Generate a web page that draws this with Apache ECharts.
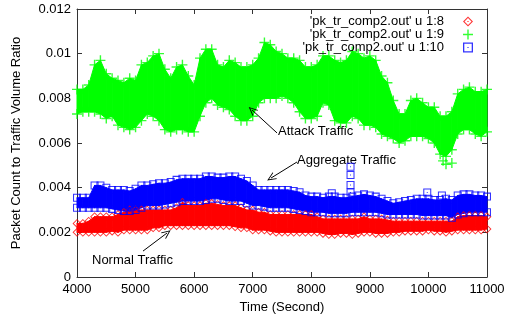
<!DOCTYPE html>
<html>
<head>
<meta charset="utf-8">
<script src="https://cdn.jsdelivr.net/npm/echarts@6/dist/echarts.min.js"></script>
<style>
html,body{margin:0;padding:0;background:#fff;}
#chart{width:511px;height:320px;}
</style>
</head>
<body>
<div id="chart"></div>
<script>
// ratios are written in units of 1e-4, one reading every 100 s from 4000 to 11000
var times = [];
for (var t = 4000; t <= 11000; t += 100) times.push(t);
var UNIT = 1e-4;

// 1:9  attack traffic (green), upper and lower edge of the cloud
var greenHi = [84,84,86,95,97,91,89,88,87,89, 88,95,96,99,100,93,89,94,95,90,
               86,98,102,102,95,94,97,96,94,94, 95,98,105,104,101,100,98,98,97,94,
               94,95,99,99,97,96,97,101,100,98, 99,97,90,87,79,73,73,79,80,78,
               76,76,72,72,74,82,84,85,83,83, 84];
var greenLo = [73,74,74,74,73,71,72,68,67,66, 67,70,73,72,70,66,65,66,66,65,
               65,72,78,80,77,76,75,72,70,70, 72,78,80,80,80,81,80,78,74,71,
               71,72,78,77,70,69,69,72,71,68, 68,67,64,63,62,60,61,63,63,63,
               62,60,55,54,57,64,66,66,64,63, 65];
var greenStray = [[10250, 52], [10300, 50.5], [10400, 51]];

// 1:8  normal traffic (red)
var redHi = [24,24,25,27,27,27,27,28,29,30, 30,30,30,30,30,30,30,31,33.5,32,
             32,32,33,33,32.5,32,32,32,31,30, 30,29,29,28,28,28,28,28,28,28,
             28,27,26,26,26,26,26,26,26,27, 26,26,26,25.5,25,25,25,25,25,25,
             25,25,25,25,25,27,27.5,27.5,27.5,27.5, 27];
var redLo = [20,20,20,20,20,20,20.5,20,21,21, 21,21,21,22,22,23,23,23,23,23,
             23,23,23,23,23,23,23,22.5,22,22, 21,21,21,20.5,20,20,20,20,20,20,
             20,20,19.5,19,19,19.5,19.5,19,19.5,20, 20,19.5,19.5,19.5,20,20,20.5,20.5,20.5,20.5,
             21,20.5,20.5,20,20.5,21,21,21,21,21, 21.5];

// 1:10 aggregate traffic (blue)
var blueHi = [35.5,35.5,35.5,41,41,40,39,39,39,38.5, 39.5,41,41,41.5,42,42,42.5,43.5,44,44,
              44,44,45,45,44.5,44.5,45,45,44,43, 41,39,39,39,39,39,39,38.5,38,36.5,
              36,36,35.5,36,36,35.5,35.5,36,36.5,37, 36.5,36,35,34,33,33.5,34,34.5,35,35,
              35,34.5,34.5,35,34.5,36.5,37,37,36.5,36.5, 36];
var blueLo = [31,31,31,31,31,31,30.5,30,29.5,29.5, 30,31,32,32,32,32.5,33,33.5,34,34,
              34,34,34.5,35,35,34.5,34,34,34,33, 32,32,31.5,31,31,31,31,30.5,30,29.5,
              29,29,29,28.5,28.5,28.5,28.5,29,29,29, 29,29,28.5,28,28,28,28,28,28,27.5,
              27.5,27.5,27.5,27.5,26.5,28,28.5,29,29,29, 29];
var blueStray = [[8350, 37.5], [8670, 49.4], [8670, 45.7], [8670, 41.2], [8670, 37.8],
                 [9980, 37.8], [10230, 36.5]];

var yTicks = [0, 0.002, 0.004, 0.006, 0.008, 0.01, 0.012];

// annotation arrows (tail, head) and their labels
var arrows = [
  [[7415, 0.00645], [6988, 0.00748]],
  [[7756, 0.00515], [7312, 0.00443]],
  [[5127, 0.00116], [5537, 0.00197]]
];
var notes = [
  {text: 'Attack Traffic', at: [7432, 0.00654]},
  {text: 'Aggregate Traffic', at: [7756, 0.00524]},
  {text: 'Normal Traffic', at: [4256, 0.00076]}
];

var names = ["'pk_tr_comp2.out' u 1:8", "'pk_tr_comp2.out' u 1:9", "'pk_tr_comp2.out' u 1:10"];
var FONT = 'Liberation Sans, Arial, Helvetica, sans-serif';

var PLUS = 'path://M4.3,0H5.7V4.3H10V5.7H5.7V10H4.3V5.7H0V4.3H4.3Z';
var DIAMOND = 'path://M5,0L10,5L5,10L0,5ZM5,1.5L1.5,5L5,8.5L8.5,5ZM4.4,4.4H5.6V5.6H4.4Z';
var SQUARE = 'path://M0,0H10V10H0ZM1.3,1.3V8.7H8.7V1.3ZM4.4,4.4H5.6V5.6H4.4Z';

function pts(arr) {
  return arr.map(function (v, i) { return [times[i], v * UNIT]; });
}
function stray(arr) {
  return arr.map(function (p) { return [p[0], p[1] * UNIT]; });
}
function band(lo, hi) {
  var out = [];
  for (var i = 0; i < times.length - 1; i++) {
    out.push([times[i], lo[i] * UNIT, hi[i] * UNIT, times[i + 1], lo[i + 1] * UNIT, hi[i + 1] * UNIT]);
  }
  return out;
}

function bandSeries(id, lo, hi, color) {
  return {
    name: id, type: 'custom', silent: true,
    renderItem: function (params, api) {
      var a = api.coord([api.value(0), api.value(1)]);
      var b = api.coord([api.value(0), api.value(2)]);
      var c = api.coord([api.value(3), api.value(5)]);
      var d = api.coord([api.value(3), api.value(4)]);
      return {type: 'polygon', shape: {points: [a, b, c, d]},
              style: {fill: color, stroke: color, lineWidth: 1}};
    },
    encode: {x: [0, 3], y: [1, 2, 4, 5]},
    data: band(lo, hi)
  };
}

function dots(name, data, sym, size, color) {
  return {
    name: name, type: 'scatter', silent: true,
    symbol: sym, symbolSize: size,
    itemStyle: {color: color},
    data: data
  };
}

var chart = echarts.init(document.getElementById('chart'));

var axisCol = '#333';
var option = {
  animation: false,
  textStyle: {fontFamily: FONT},
  grid: {left: 77, right: 24, top: 9, bottom: 43},
  legend: {
    orient: 'vertical', right: 33, top: 10, align: 'right',
    itemWidth: 38, itemHeight: 10, itemGap: 0,
    textStyle: {fontSize: 13, color: '#000', lineHeight: 13, fontFamily: FONT},
    selectedMode: false,
    data: [
      {name: names[0], icon: DIAMOND},
      {name: names[1], icon: PLUS},
      {name: names[2], icon: SQUARE}
    ]
  },
  xAxis: [{
    type: 'value', min: 4000, max: 11000, interval: 1000,
    name: 'Time (Second)', nameLocation: 'middle', nameGap: 24,
    nameTextStyle: {fontSize: 13, color: '#000', fontFamily: FONT},
    axisLine: {show: true, onZero: false, lineStyle: {color: axisCol, width: 1}},
    axisTick: {show: true, inside: true, length: 5, lineStyle: {color: axisCol}},
    axisLabel: {fontSize: 13, color: '#000', margin: 6,
      formatter: function (v) { return String(v); }},
    splitLine: {show: false}
  }, {
    type: 'value', position: 'top', min: 4000, max: 11000, interval: 1000,
    axisLine: {show: true, onZero: false, lineStyle: {color: axisCol, width: 1}},
    axisTick: {show: true, inside: true, length: 5, lineStyle: {color: axisCol}},
    axisLabel: {show: false}, splitLine: {show: false}
  }],
  yAxis: [{
    type: 'value', min: 0, max: yTicks[yTicks.length - 1], interval: 0.002,
    name: 'Packet Count to Traffic Volume Ratio', nameLocation: 'middle', nameGap: 54,
    nameTextStyle: {fontSize: 13, color: '#000', fontFamily: FONT},
    axisLine: {show: true, onZero: false, lineStyle: {color: axisCol, width: 1}},
    axisTick: {show: true, inside: true, length: 5, lineStyle: {color: axisCol}},
    axisLabel: {fontSize: 13, color: '#000', margin: 6,
      formatter: function (v) { return v === 0 ? '0' : String(+v.toFixed(4)); }},
    splitLine: {show: false}
  }, {
    type: 'value', position: 'right', min: 0, max: yTicks[yTicks.length - 1], interval: 0.002,
    axisLine: {show: true, onZero: false, lineStyle: {color: axisCol, width: 1}},
    axisTick: {show: true, inside: true, length: 5, lineStyle: {color: axisCol}},
    axisLabel: {show: false}, splitLine: {show: false}
  }],
  series: [
    bandSeries('band-red', redLo, redHi, '#ff0000'),
    dots(names[0], pts(redHi).concat(pts(redLo)), DIAMOND, 9, '#ff0000'),
    bandSeries('band-green', greenLo, greenHi, '#00ff00'),
    dots(names[1], pts(greenHi).concat(pts(greenLo), stray(greenStray)), PLUS, 10, '#00ff00'),
    bandSeries('band-blue', blueLo, blueHi, '#0000ff'),
    dots(names[2], pts(blueHi).concat(pts(blueLo), stray(blueStray)), SQUARE, 8, '#0000ff'),
    {
      type: 'scatter', silent: true, data: [], symbolSize: 0,
      markLine: {
        silent: true, animation: false,
        symbol: ['none', 'path://M0,10L5,0L10,10L8.8,10L5,2.4L1.2,10Z'],
        symbolSize: [8, 9],
        lineStyle: {color: '#000', width: 1, type: 'solid'},
        label: {show: false},
        data: arrows.map(function (a) { return [{coord: a[0]}, {coord: a[1]}]; })
      }
    }
  ]
};
chart.setOption(option);

chart.setOption({
  graphic: notes.map(function (n) {
    var p = chart.convertToPixel({xAxisIndex: 0, yAxisIndex: 0}, n.at);
    return {
      type: 'text', x: p[0], y: p[1], silent: true,
      style: {text: n.text, fill: '#000', font: '13px ' + FONT,
              textAlign: 'left', textVerticalAlign: 'middle'}
    };
  })
});
</script>
</body>
</html>
